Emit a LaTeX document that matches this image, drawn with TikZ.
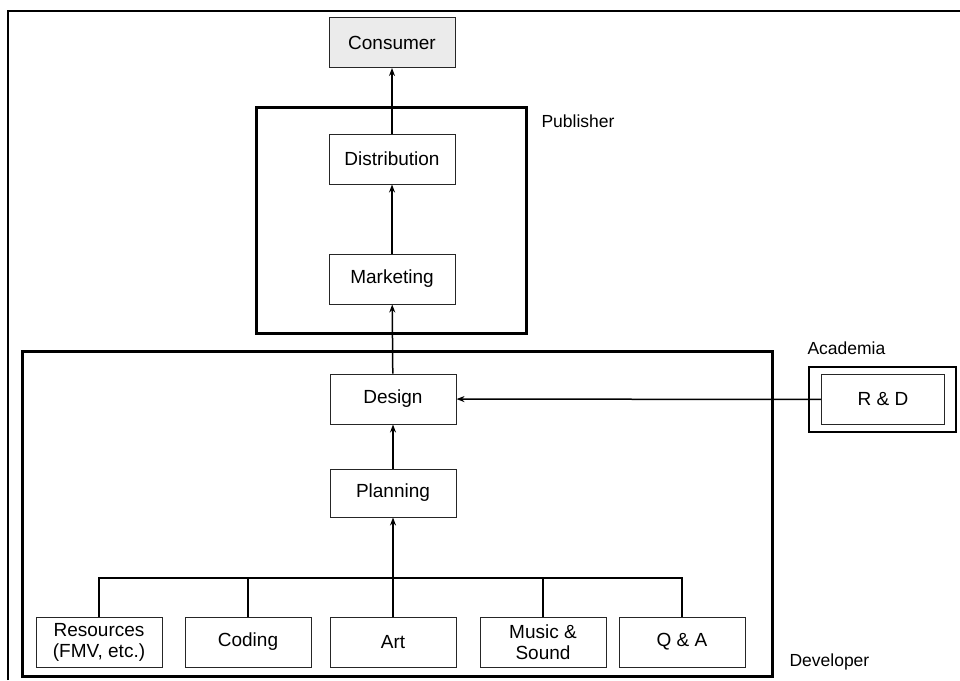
\documentclass[tikz,border=0pt]{standalone}
\usepackage{fontspec}
\setmainfont{Liberation Sans}
\usepackage{tikz}
\usetikzlibrary{arrows.meta,positioning,calc}

\tikzset{
    unit/.style={draw=black!85, line width=1pt, fill=white, minimum width=126pt,
        minimum height=50pt, inner sep=2pt, align=center,
        font=\fontsize{19}{21}\selectfont},
    flow/.style={line width=1.5pt, -{Stealth[length=8pt,width=6pt]}},
    wire/.style={line width=1.5pt},
    group/.style={line width=3pt},
    tag/.style={anchor=west, font=\fontsize{17.5}{19}\selectfont}
}

\begin{document}
\begin{tikzpicture}[x=1pt,y=-1pt]
    \useasboundingbox (0,0) rectangle (960,680);
    \draw[line width=1.8pt] (8,680) -- (8,11) -- (960,11); % outer frame

    % groups
    \draw[group] (256,107) rectangle (526,333);
    \draw[group] (22,351) rectangle (772,676);
    \draw[line width=2.4pt] (809,367) rectangle (956,432);
    \node[tag] (pub) at (538,121) {Publisher};
    \node[tag] (acad) at (804,348) {Academia};
    \node[tag] (dev) at (786,662) {Developer};

    % chain
    \node[unit, fill=black!8] (consumer) at (392,42.5) {Consumer};
    \node[unit] (dist) at (392,159) {Distribution};
    \node[unit] (mkt) at (392,279) {Marketing};
    \node[unit] (design) at (393,399) {Design};
    \node[unit, minimum height=48pt] (plan) at (393,493) {Planning};
    \node[unit, minimum width=123pt] (rd) at (883,399.5) {R \& D};

    % teams
    \node[unit] (res) at (99,642) {Resources\\(FMV, etc.)};
    \node[unit] (coding) at (248,642) {Coding};
    \node[unit] (art) at (393,642) {Art};
    \node[unit] (music) at (543,642) {Music \&\\Sound};
    \node[unit] (qa) at (682,642) {Q \& A};

    \draw[flow] (dist) -- (consumer);
    \draw[flow] (mkt) -- (dist);
    \draw[flow] (design) -- (mkt);
    \draw[flow] (plan) -- (design);
    \draw[flow] (rd) -- (design);

    \coordinate (bus) at (393,578);
    \draw[wire] (res.north) |- (bus) -| (qa.north);
    \draw[wire] (coding.north) -- (coding.north |- bus);
    \draw[wire] (music.north) -- (music.north |- bus);
    \draw[flow] (art.north) -- (plan.south);
\end{tikzpicture}
\end{document}
